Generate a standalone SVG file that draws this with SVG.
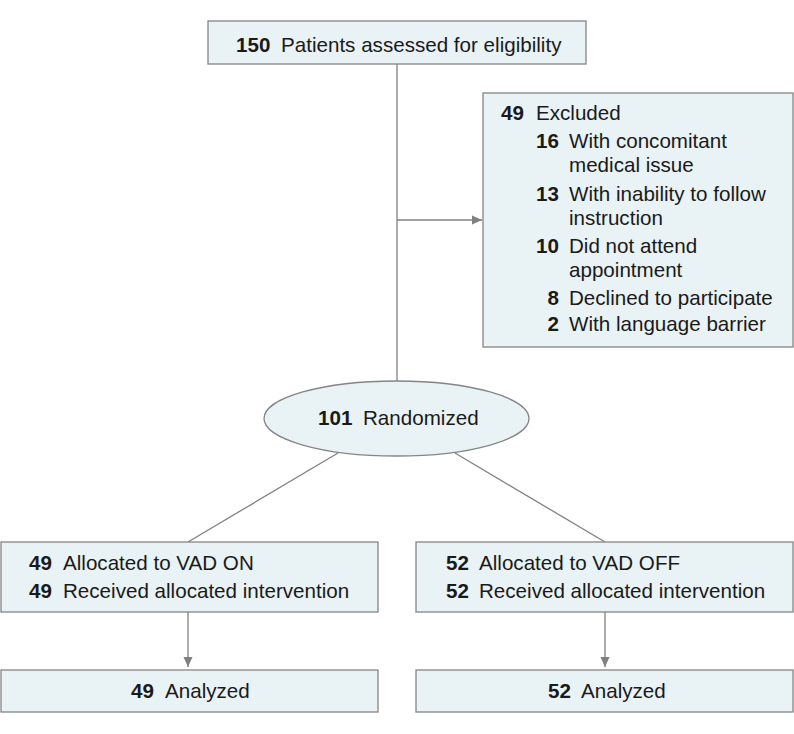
<svg xmlns="http://www.w3.org/2000/svg" width="794" height="734" viewBox="0 0 794 734">
<style>
.box{fill:#e9f2f4;stroke:#858585;stroke-width:1.3}
.t{font-family:"Liberation Sans",Arial,sans-serif;font-size:20.6px;fill:#1a1a1a}
.b{font-weight:bold}
.e{text-anchor:end}
.ln{stroke:#808080;stroke-width:1.3;fill:none}
</style>
<defs>
<marker id="ah" viewBox="0 0 10 10" refX="10" refY="5" markerWidth="10" markerHeight="10" markerUnits="userSpaceOnUse" orient="auto">
<path d="M0,0.5 L10,5 L0,9.5 Z" fill="#808080"/>
</marker>
</defs>
<rect width="794" height="734" fill="#fff"/>
<g id="connectors">
<line class="ln" x1="397" y1="64" x2="397" y2="381"/>
<line class="ln" x1="397" y1="220" x2="482" y2="220" marker-end="url(#ah)"/>
<line class="ln" x1="338" y1="453" x2="188" y2="542"/>
<line class="ln" x1="455" y1="453" x2="605" y2="542"/>
<line class="ln" x1="188" y1="612" x2="188" y2="667" marker-end="url(#ah)"/>
<line class="ln" x1="605" y1="612" x2="605" y2="667" marker-end="url(#ah)"/>
</g>
<g id="assessed">
<rect class="box" x="208" y="21" width="378" height="43"/>
<text class="t b" x="236" y="52">150</text>
<text class="t" x="281" y="52">Patients assessed for eligibility</text>
</g>
<g id="excluded">
<rect class="box" x="483" y="93" width="310" height="254"/>
<text class="t b e" x="524" y="120">49</text>
<text class="t" x="536" y="120">Excluded</text>
<text class="t b e" x="559" y="148">16</text>
<text class="t" x="569" y="148">With concomitant</text>
<text class="t" x="569" y="172">medical issue</text>
<text class="t b e" x="559" y="201">13</text>
<text class="t" x="569" y="201">With inability to follow</text>
<text class="t" x="569" y="225">instruction</text>
<text class="t b e" x="559" y="253">10</text>
<text class="t" x="569" y="253">Did not attend</text>
<text class="t" x="569" y="277">appointment</text>
<text class="t b e" x="559" y="305">8</text>
<text class="t" x="569" y="305">Declined to participate</text>
<text class="t b e" x="559" y="331">2</text>
<text class="t" x="569" y="331">With language barrier</text>
</g>
<g id="randomized">
<ellipse class="box" cx="396.5" cy="418.5" rx="132.5" ry="37.5"/>
<text class="t b" x="318" y="425">101</text>
<text class="t" x="363" y="425">Randomized</text>
</g>
<g id="vadon">
<rect class="box" x="1" y="542" width="377" height="70"/>
<text class="t b" x="29" y="570">49</text>
<text class="t" x="63" y="570">Allocated to VAD ON</text>
<text class="t b" x="29" y="598">49</text>
<text class="t" x="63" y="598">Received allocated intervention</text>
</g>
<g id="vadoff">
<rect class="box" x="416" y="542" width="377" height="70"/>
<text class="t b" x="446" y="570">52</text>
<text class="t" x="479" y="570">Allocated to VAD OFF</text>
<text class="t b" x="446" y="598">52</text>
<text class="t" x="479" y="598">Received allocated intervention</text>
</g>
<g id="analyzed-on">
<rect class="box" x="1" y="670" width="377" height="42"/>
<text class="t b" x="131" y="698">49</text>
<text class="t" x="165" y="698">Analyzed</text>
</g>
<g id="analyzed-off">
<rect class="box" x="416" y="670" width="377" height="42"/>
<text class="t b" x="548" y="698">52</text>
<text class="t" x="581" y="698">Analyzed</text>
</g>
</svg>
